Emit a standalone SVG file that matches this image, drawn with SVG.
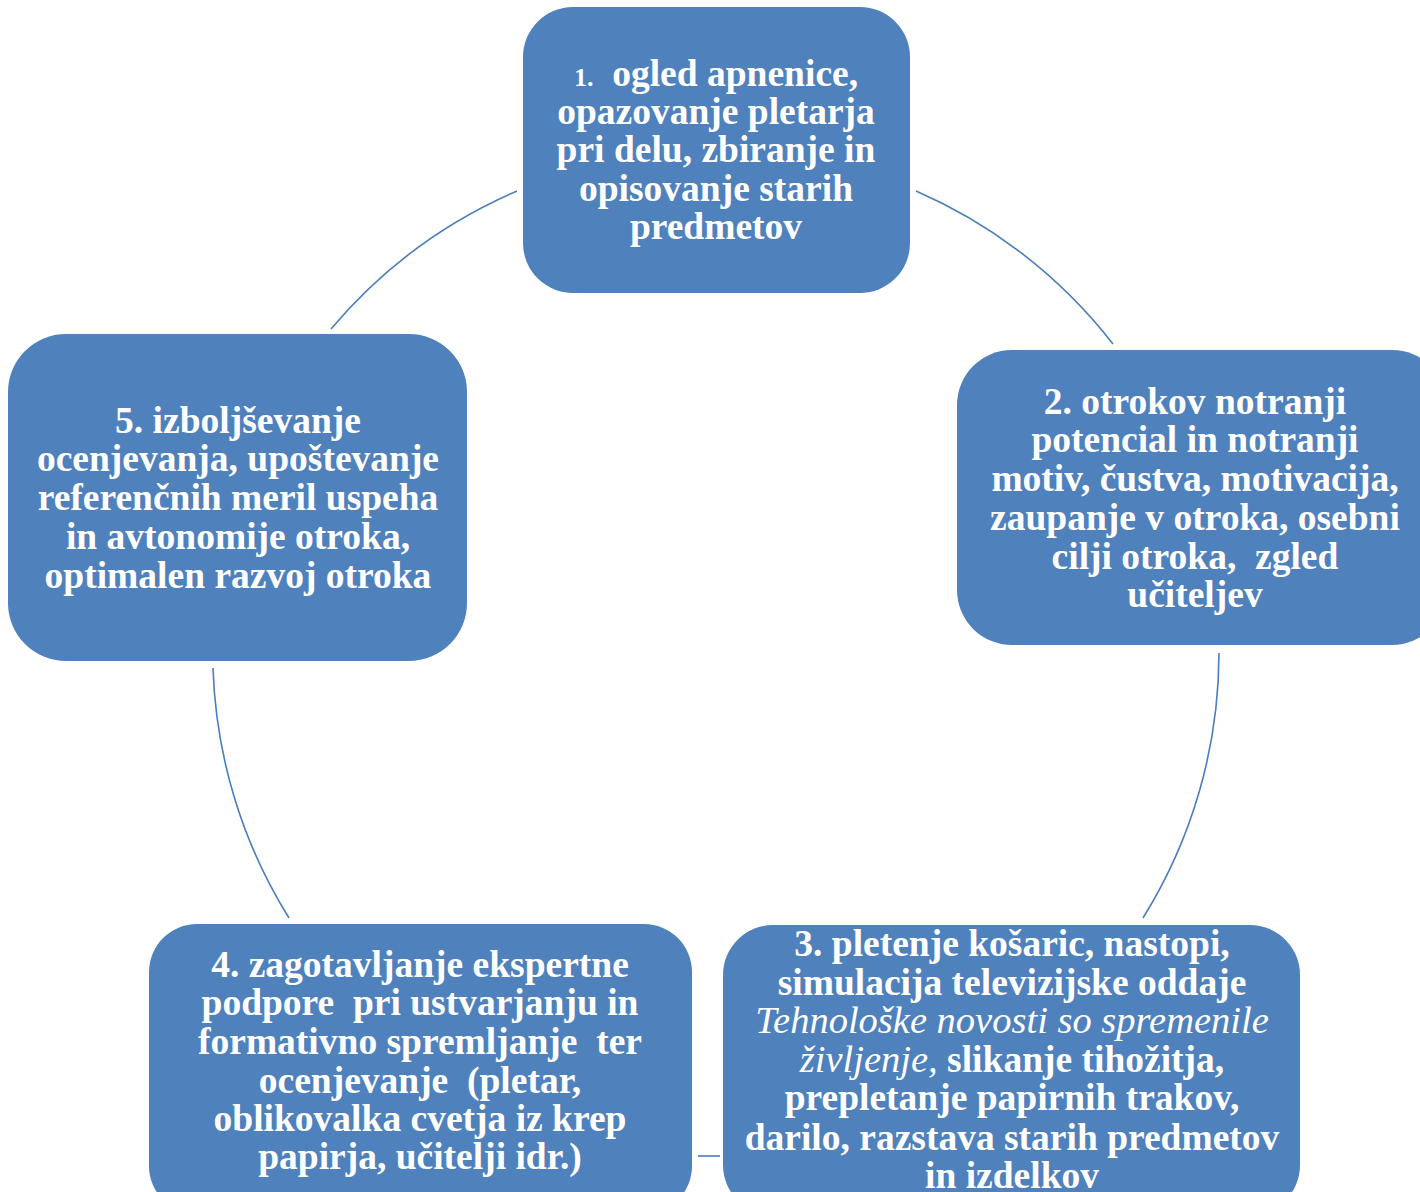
<svg xmlns="http://www.w3.org/2000/svg" width="1420" height="1192" viewBox="0 0 1420 1192">
<style>
.node{fill:#4F81BD;}
.t{font-family:"Liberation Serif","Times New Roman",serif;font-weight:bold;font-size:37.5px;fill:#FFFFFF;text-anchor:middle;white-space:pre;}
.num{font-size:26px;}
.it{font-style:italic;font-weight:normal;font-size:38.5px;}
.conn{fill:none;stroke:#4A7EBB;stroke-width:1.6;}
</style>
<rect width="1420" height="1192" fill="#FFFFFF"/>
<g id="connectors">
<path class="conn" d="M916,191 A503,503 0 0 1 1113,344"/>
<path class="conn" d="M1219,653 A503,503 0 0 1 1143,918"/>
<path class="conn" d="M720,1156 L698,1156"/>
<path class="conn" d="M289,918 A503,503 0 0 1 213,668"/>
<path class="conn" d="M331,329 A503,503 0 0 1 517,191"/>
</g>
<g id="node1">
<rect class="node" x="523" y="7" width="387" height="286" rx="50"/>
<text class="t" xml:space="preserve"><tspan x="716" y="86"><tspan class="num">1.</tspan>  ogled apnenice,</tspan><tspan x="716" y="124">opazovanje pletarja</tspan><tspan x="716" y="162">pri delu, zbiranje in</tspan><tspan x="716" y="201">opisovanje starih</tspan><tspan x="716" y="239">predmetov</tspan></text>
</g>
<g id="node2">
<rect class="node" x="957" y="350" width="490" height="295" rx="55"/>
<text class="t" xml:space="preserve"><tspan x="1195" y="414">2. otrokov notranji</tspan><tspan x="1195" y="452">potencial in notranji</tspan><tspan x="1195" y="491">motiv, čustva, motivacija,</tspan><tspan x="1195" y="530">zaupanje v otroka, osebni</tspan><tspan x="1195" y="569">cilji otroka,  zgled</tspan><tspan x="1195" y="607">učiteljev</tspan></text>
</g>
<g id="node3">
<rect class="node" x="723" y="925" width="577" height="290" rx="50"/>
<text class="t" xml:space="preserve"><tspan x="1012" y="956">3. pletenje košaric, nastopi,</tspan><tspan x="1012" y="995">simulacija televizijske oddaje</tspan><tspan x="1012" y="1033" class="it">Tehnološke novosti so spremenile</tspan><tspan x="1012" y="1072"><tspan class="it">življenje,</tspan> slikanje tihožitja,</tspan><tspan x="1012" y="1110">prepletanje papirnih trakov,</tspan><tspan x="1012" y="1150">darilo, razstava starih predmetov</tspan><tspan x="1012" y="1188">in izdelkov</tspan></text>
</g>
<g id="node4">
<rect class="node" x="149" y="924" width="543" height="290" rx="48"/>
<text class="t" xml:space="preserve"><tspan x="420" y="977">4. zagotavljanje ekspertne</tspan><tspan x="420" y="1015">podpore  pri ustvarjanju in</tspan><tspan x="420" y="1054">formativno spremljanje  ter</tspan><tspan x="420" y="1093">ocenjevanje  (pletar,</tspan><tspan x="420" y="1131">oblikovalka cvetja iz krep</tspan><tspan x="420" y="1169">papirja, učitelji idr.)</tspan></text>
</g>
<g id="node5">
<rect class="node" x="8" y="334" width="459" height="327" rx="58"/>
<text class="t" xml:space="preserve"><tspan x="238" y="433">5. izboljševanje</tspan><tspan x="238" y="471">ocenjevanja, upoštevanje</tspan><tspan x="238" y="510">referenčnih meril uspeha</tspan><tspan x="238" y="549">in avtonomije otroka,</tspan><tspan x="238" y="588">optimalen razvoj otroka</tspan></text>
</g>
</svg>
